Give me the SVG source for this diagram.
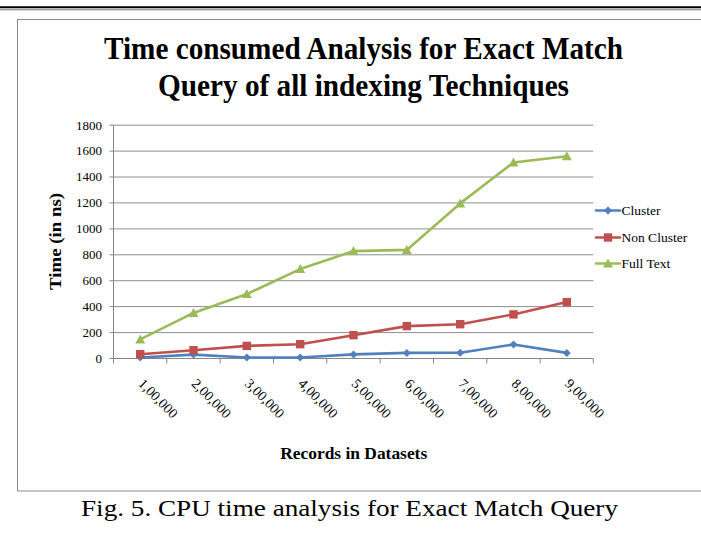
<svg xmlns="http://www.w3.org/2000/svg" xmlns:xlink="http://www.w3.org/1999/xlink" width="701" height="542" viewBox="0 0 701 542">
  <style>
    .title { font-family: "Liberation Serif", "Times New Roman", serif; font-weight: bold; font-size: 32px; fill: #000; }
    .axis-title { font-family: "Liberation Serif", "Times New Roman", serif; font-weight: bold; font-size: 17px; fill: #000; }
    .tick { font-family: "Liberation Serif", "Times New Roman", serif; font-size: 13px; fill: #000; }
    .xtick { font-family: "Liberation Serif", "Times New Roman", serif; font-size: 14px; fill: #000; }
    .legend { font-family: "Liberation Serif", "Times New Roman", serif; font-size: 13.5px; fill: #000; }
    .caption { font-family: "Liberation Serif", "Times New Roman", serif; font-size: 24px; fill: #000; }
    .grid { stroke: #8e8e8e; stroke-width: 1; fill: none; }
    .axis { stroke: #868686; stroke-width: 1; fill: none; }
    .series { fill: none; stroke-width: 2.6; stroke-linejoin: round; stroke-linecap: round; }
    .cluster { stroke: #4F81BD; }
    .noncluster { stroke: #C0504D; }
    .fulltext { stroke: #9BBB59; }
  </style>
  <defs>
    <path id="m-diamond" d="M0,-4 L4,0 L0,4 L-4,0Z" fill="#4F81BD"/>
    <path id="m-square" d="M-4.2,-4.2h8.4v8.4h-8.4z" fill="#C0504D"/>
    <path id="m-triangle" d="M0,-5 L5,4 L-5,4Z" fill="#9BBB59"/>
  </defs>

  <rect width="701" height="542" fill="#fff"/>

  <!-- page rules at the top -->
  <line x1="0" y1="7.3" x2="701" y2="7.3" stroke="#000" stroke-width="2"/>
  <line x1="0" y1="9.8" x2="701" y2="9.8" stroke="#777" stroke-width="1"/>

  <!-- chart frame -->
  <rect x="17.5" y="19.5" width="700" height="471.5" fill="#fff" stroke="#8a8a8a" stroke-width="1"/>

  <!-- chart title -->
  <g id="title">
    <text class="title" x="363.5" y="59" text-anchor="middle" textLength="519" lengthAdjust="spacingAndGlyphs">Time consumed Analysis for Exact Match</text>
    <text class="title" x="363.5" y="96" text-anchor="middle" textLength="411" lengthAdjust="spacingAndGlyphs">Query of all indexing Techniques</text>
  </g>

  <!-- gridlines -->
  <g id="gridlines">
    <line class="grid" x1="113.5" y1="332.6" x2="593.3" y2="332.6"/>
    <line class="grid" x1="113.5" y1="306.6" x2="593.3" y2="306.6"/>
    <line class="grid" x1="113.5" y1="280.7" x2="593.3" y2="280.7"/>
    <line class="grid" x1="113.5" y1="254.8" x2="593.3" y2="254.8"/>
    <line class="grid" x1="113.5" y1="228.9" x2="593.3" y2="228.9"/>
    <line class="grid" x1="113.5" y1="202.9" x2="593.3" y2="202.9"/>
    <line class="grid" x1="113.5" y1="177.0" x2="593.3" y2="177.0"/>
    <line class="grid" x1="113.5" y1="151.1" x2="593.3" y2="151.1"/>
    <line class="grid" x1="113.5" y1="125.2" x2="593.3" y2="125.2"/>
  </g>

  <!-- axes with tick marks -->
  <g id="axes">
    <line class="axis" x1="113.5" y1="125.2" x2="113.5" y2="358.5"/>
    <line class="axis" x1="113.5" y1="358.5" x2="593.3" y2="358.5"/>
    <path class="axis" d="M109.5,358.5h4 M109.5,332.6h4 M109.5,306.6h4 M109.5,280.7h4 M109.5,254.8h4 M109.5,228.9h4 M109.5,202.9h4 M109.5,177.0h4 M109.5,151.1h4 M109.5,125.2h4"/>
    <path class="axis" d="M113.5,358.5v5 M166.8,358.5v5 M220.2,358.5v5 M273.5,358.5v5 M326.8,358.5v5 M380.2,358.5v5 M433.5,358.5v5 M486.8,358.5v5 M540.2,358.5v5 M593.3,358.5v5"/>
  </g>

  <!-- value axis labels -->
  <g id="y-labels" text-anchor="end">
    <text class="tick" x="102" y="362.8">0</text>
    <text class="tick" x="102" y="336.9">200</text>
    <text class="tick" x="102" y="310.9">400</text>
    <text class="tick" x="102" y="285.0">600</text>
    <text class="tick" x="102" y="259.1">800</text>
    <text class="tick" x="102" y="233.2">1000</text>
    <text class="tick" x="102" y="207.2">1200</text>
    <text class="tick" x="102" y="181.3">1400</text>
    <text class="tick" x="102" y="155.4">1600</text>
    <text class="tick" x="102" y="129.5">1800</text>
  </g>

  <!-- category axis labels -->
  <g id="x-labels">
    <text class="xtick" transform="translate(137.5,384.5) rotate(45)">1,00,000</text>
    <text class="xtick" transform="translate(190.8,384.5) rotate(45)">2,00,000</text>
    <text class="xtick" transform="translate(244.1,384.5) rotate(45)">3,00,000</text>
    <text class="xtick" transform="translate(297.5,384.5) rotate(45)">4,00,000</text>
    <text class="xtick" transform="translate(350.8,384.5) rotate(45)">5,00,000</text>
    <text class="xtick" transform="translate(404.1,384.5) rotate(45)">6,00,000</text>
    <text class="xtick" transform="translate(457.5,384.5) rotate(45)">7,00,000</text>
    <text class="xtick" transform="translate(510.8,384.5) rotate(45)">8,00,000</text>
    <text class="xtick" transform="translate(564.1,384.5) rotate(45)">9,00,000</text>
  </g>

  <!-- axis titles -->
  <text id="y-title" class="axis-title" transform="translate(61,241.5) rotate(-90)" text-anchor="middle" textLength="97" lengthAdjust="spacingAndGlyphs">Time (in ns)</text>
  <text id="x-title" class="axis-title" x="353.7" y="459.3" text-anchor="middle" textLength="147" lengthAdjust="spacingAndGlyphs">Records in Datasets</text>

  <!-- data series -->
  <g id="connectors">
    <polyline class="series cluster" points="140.2,357.5 193.5,354.6 246.8,357.5 300.2,357.5 353.5,354.4 406.8,352.9 460.2,352.7 513.5,344.5 566.8,352.9"/>
    <polyline class="series noncluster" points="140.2,354.2 193.5,350.2 246.8,345.9 300.2,344.2 353.5,335.2 406.8,326.1 460.2,324.2 513.5,314.4 566.8,302.1"/>
    <polyline class="series fulltext" points="140.2,339.4 193.5,312.9 246.8,294.1 300.2,269.1 353.5,251.1 406.8,249.9 460.2,203.4 513.5,162.5 566.8,156.3"/>
  </g>

  <g id="cluster-points">
    <use xlink:href="#m-diamond" x="140.2" y="357.5"/>
    <use xlink:href="#m-diamond" x="193.5" y="354.6"/>
    <use xlink:href="#m-diamond" x="246.8" y="357.5"/>
    <use xlink:href="#m-diamond" x="300.2" y="357.5"/>
    <use xlink:href="#m-diamond" x="353.5" y="354.4"/>
    <use xlink:href="#m-diamond" x="406.8" y="352.9"/>
    <use xlink:href="#m-diamond" x="460.2" y="352.7"/>
    <use xlink:href="#m-diamond" x="513.5" y="344.5"/>
    <use xlink:href="#m-diamond" x="566.8" y="352.9"/>
  </g>
  <g id="noncluster-points">
    <use xlink:href="#m-square" x="140.2" y="354.2"/>
    <use xlink:href="#m-square" x="193.5" y="350.2"/>
    <use xlink:href="#m-square" x="246.8" y="345.9"/>
    <use xlink:href="#m-square" x="300.2" y="344.2"/>
    <use xlink:href="#m-square" x="353.5" y="335.2"/>
    <use xlink:href="#m-square" x="406.8" y="326.1"/>
    <use xlink:href="#m-square" x="460.2" y="324.2"/>
    <use xlink:href="#m-square" x="513.5" y="314.4"/>
    <use xlink:href="#m-square" x="566.8" y="302.1"/>
  </g>
  <g id="fulltext-points">
    <use xlink:href="#m-triangle" x="140.2" y="339.4"/>
    <use xlink:href="#m-triangle" x="193.5" y="312.9"/>
    <use xlink:href="#m-triangle" x="246.8" y="294.1"/>
    <use xlink:href="#m-triangle" x="300.2" y="269.1"/>
    <use xlink:href="#m-triangle" x="353.5" y="251.1"/>
    <use xlink:href="#m-triangle" x="406.8" y="249.9"/>
    <use xlink:href="#m-triangle" x="460.2" y="203.4"/>
    <use xlink:href="#m-triangle" x="513.5" y="162.5"/>
    <use xlink:href="#m-triangle" x="566.8" y="156.3"/>
  </g>

  <!-- legend -->
  <g id="legend">
    <g id="legend-cluster">
      <line class="series cluster" x1="596" y1="210.5" x2="620" y2="210.5" stroke-linecap="butt"/>
      <use xlink:href="#m-diamond" x="608" y="210.5"/>
      <text class="legend" x="621.5" y="215">Cluster</text>
    </g>
    <g id="legend-noncluster">
      <line class="series noncluster" x1="596" y1="237.5" x2="620" y2="237.5" stroke-linecap="butt"/>
      <use xlink:href="#m-square" x="608" y="237.5"/>
      <text class="legend" x="621.5" y="242">Non Cluster</text>
    </g>
    <g id="legend-fulltext">
      <line class="series fulltext" x1="596" y1="263.5" x2="620" y2="263.5" stroke-linecap="butt"/>
      <use xlink:href="#m-triangle" x="608" y="263.5"/>
      <text class="legend" x="621.5" y="268">Full Text</text>
    </g>
  </g>

  <!-- figure caption -->
  <text id="caption" class="caption" x="349.5" y="516" text-anchor="middle" textLength="537" lengthAdjust="spacingAndGlyphs">Fig. 5. CPU time analysis for Exact Match Query</text>
</svg>
